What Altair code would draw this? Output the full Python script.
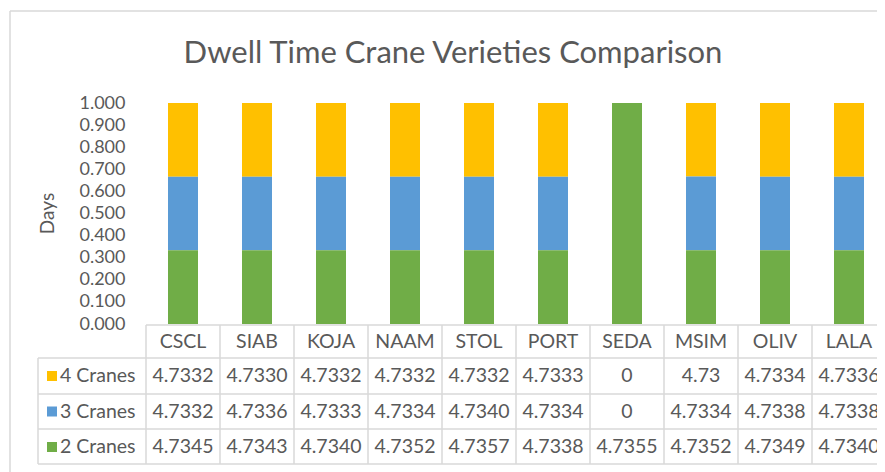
import altair as alt
import pandas as pd

categories = ["CSCL", "SIAB", "KOJA", "NAAM", "STOL", "PORT", "SEDA", "MSIM", "OLIV", "LALA"]
series = ["4 Cranes", "3 Cranes", "2 Cranes"]
cranes4 = ["4.7332", "4.7330", "4.7332", "4.7332", "4.7332", "4.7333", "0", "4.73", "4.7334", "4.7336"]
cranes3 = ["4.7332", "4.7336", "4.7333", "4.7334", "4.7340", "4.7334", "0", "4.7334", "4.7338", "4.7338"]
cranes2 = ["4.7345", "4.7343", "4.7340", "4.7352", "4.7357", "4.7338", "4.7355", "4.7352", "4.7349", "4.7340"]
colors = ["#FFC000", "#5B9BD5", "#70AD47"]
y_ticks = [0.0, 0.1, 0.2, 0.3, 0.4, 0.5, 0.6, 0.7, 0.8, 0.9, 1.0]
title_text = "Dwell Time Crane Verieties Comparison"

rows = []
for s, vals, order in zip(series, [cranes4, cranes3, cranes2], [2, 1, 0]):
    for c, v in zip(categories, vals):
        rows.append({"category": c, "series": s, "label": v, "value": float(v), "stackorder": order})
df = pd.DataFrame(rows)

FONT = "Lato"
TXT = "#595959"
GRID = "#d9d9d9"
BAND = 74
NCAT = len(categories)
FS = 19.5

xscale = alt.Scale(domain=categories, range=[0, BAND * NCAT], paddingInner=0, paddingOuter=0)
base = alt.Chart(df)

bars = base.mark_bar(size=30).encode(
    x=alt.X("category:N", sort=categories, scale=xscale, axis=None),
    y=alt.Y(
        "value:Q",
        stack="normalize",
        scale=alt.Scale(domain=[0, 1], nice=False),
        axis=alt.Axis(
            values=y_ticks, labelExpr="format(datum.value, '.3f')", grid=False, domain=False, ticks=False,
            labelPadding=21, labelFontSize=18, labelFont=FONT, labelColor=TXT,
            title="Days", titleFont=FONT, titleFontSize=19, titleFontWeight="normal",
            titleColor=TXT, titleX=-99, titleY=110, titleAngle=270,
            titleAlign="center", titleBaseline="middle",
        ),
    ),
    color=alt.Color("series:N", scale=alt.Scale(domain=series, range=colors), legend=None),
    order=alt.Order("stackorder:Q"),
)

layers = [bars]

one = alt.Chart(pd.DataFrame({"k": [0]}))

# frame border of the chart area (top and left edges visible)
layers.append(one.mark_rule(color=GRID, strokeWidth=1.5).encode(
    x=alt.value(-136), x2=alt.value(780), y=alt.value(-92)))
layers.append(one.mark_rule(color=GRID, strokeWidth=1.5).encode(
    x=alt.value(-136), y=alt.value(-92), y2=alt.value(380)))

# title
layers.append(one.mark_text(font=FONT, fontSize=31, color=TXT, align="center", baseline="alphabetic",
                            text=title_text).encode(x=alt.value(307), y=alt.value(-40)))

# table grid
row_lines = [255, 291, 326, 361]
layers.append(one.mark_rule(color=GRID, strokeWidth=1.5).encode(
    x=alt.value(0), x2=alt.value(BAND * NCAT), y=alt.value(222)))
for yl in row_lines:
    layers.append(one.mark_rule(color=GRID, strokeWidth=1.5).encode(
        x=alt.value(-108), x2=alt.value(BAND * NCAT), y=alt.value(yl)))
layers.append(one.mark_rule(color=GRID, strokeWidth=1.5).encode(
    x=alt.value(-108), y=alt.value(255), y2=alt.value(361)))

hdr = base.transform_filter(alt.datum.series == "2 Cranes")
layers.append(hdr.mark_rule(color=GRID, strokeWidth=1.5).encode(
    x=alt.X("category:N", sort=categories, scale=xscale, axis=None, bandPosition=0),
    y=alt.value(222), y2=alt.value(361)))

# header row
layers.append(hdr.mark_text(font=FONT, fontSize=FS, color=TXT, baseline="middle").encode(
    x=alt.X("category:N", sort=categories, scale=xscale, axis=None),
    y=alt.value(238.5), text="category:N"))

row_centers = [273, 308.5, 344]
for s, col, yc in zip(series, colors, row_centers):
    sub = base.transform_filter(alt.datum.series == s)
    layers.append(sub.mark_text(font=FONT, fontSize=FS, color=TXT, baseline="middle").encode(
        x=alt.X("category:N", sort=categories, scale=xscale, axis=None),
        y=alt.value(yc), text="label:N"))
    layers.append(one.mark_square(size=100, filled=True, color=col, opacity=1).encode(
        x=alt.value(-94), y=alt.value(yc)))
    layers.append(one.mark_text(font=FONT, fontSize=FS, color=TXT, align="left", baseline="middle", text=s).encode(
        x=alt.value(-86), y=alt.value(yc)))

chart = alt.layer(*layers).properties(
    width=731,
    height=221,
    autosize=alt.AutoSizeParams(type="none"),
    padding={"left": 138, "top": 95, "right": 0, "bottom": 148},
).configure_view(stroke=None)

chart.save("out.html", embed_options={"renderer": "svg", "actions": False})
